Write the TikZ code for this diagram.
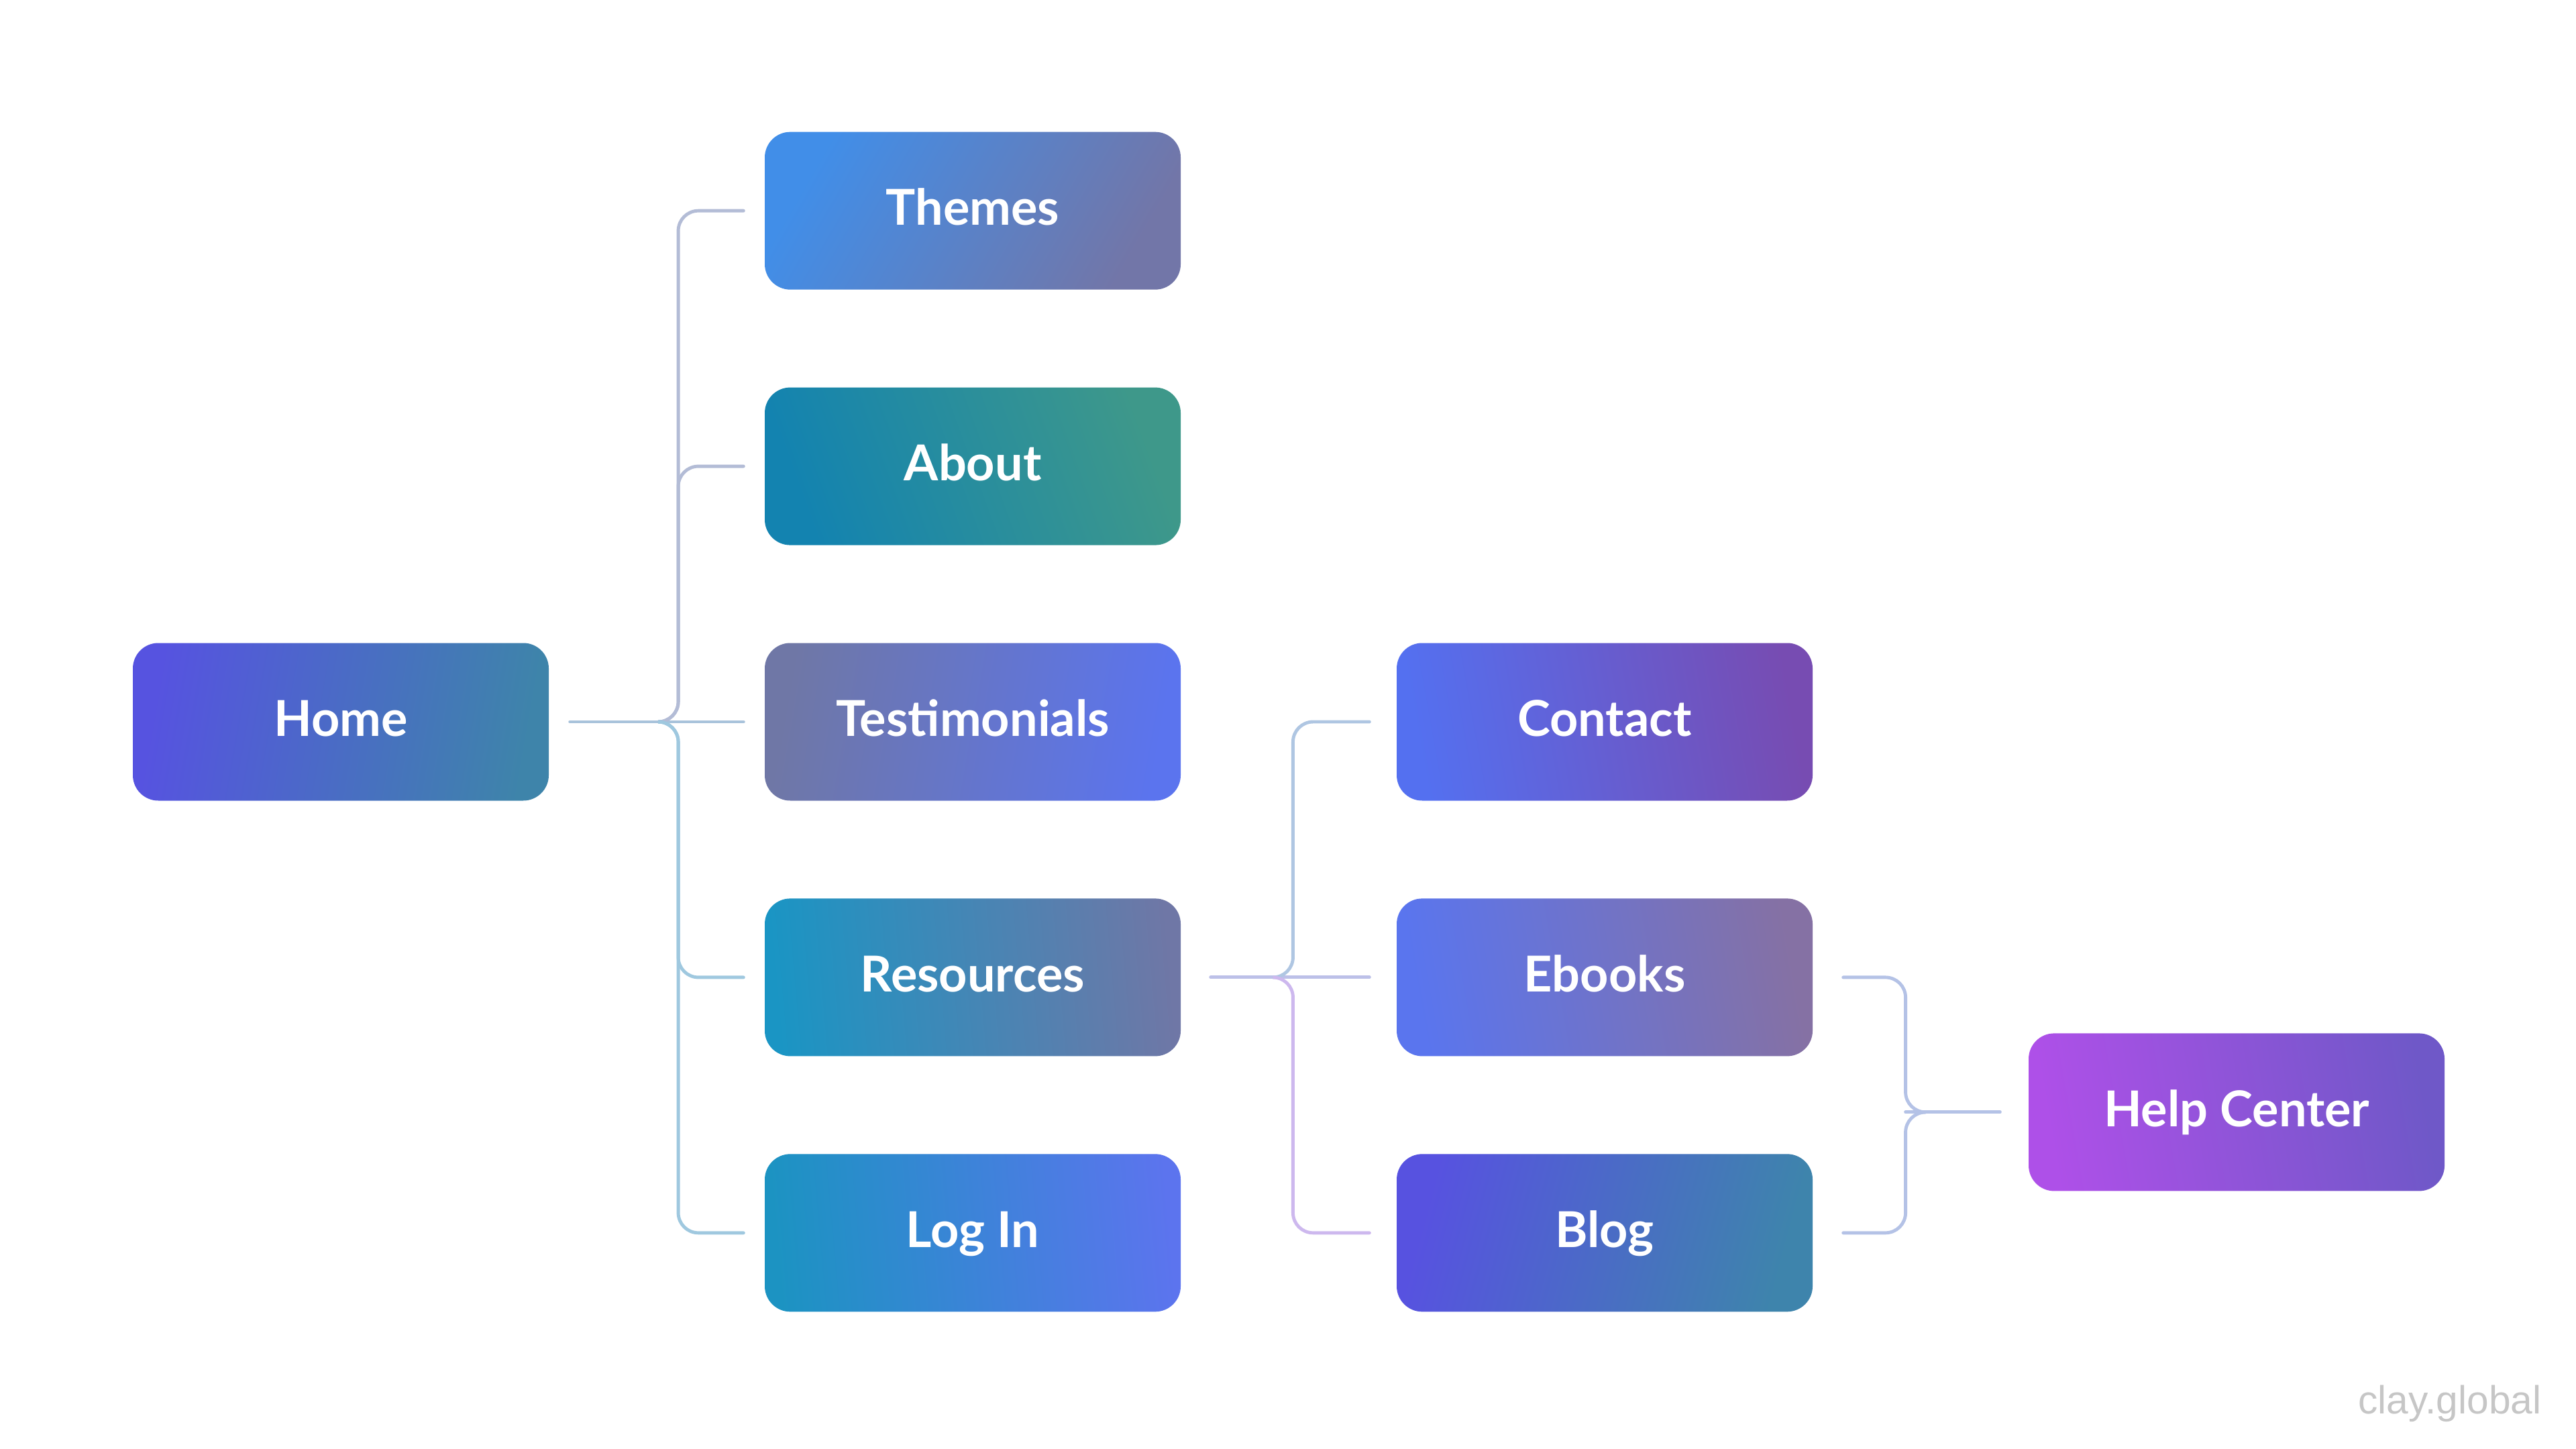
\documentclass[tikz,border=0pt]{standalone}
\usepackage{fontspec}
\setmainfont{Lato}
\newfontfamily\creditfont{Liberation Sans}
\usetikzlibrary{positioning,calc}

\definecolor{homeA}{HTML}{5653E0}
\definecolor{homeB}{HTML}{3E84AA}
\definecolor{themesA}{HTML}{418EE8}
\definecolor{themesB}{HTML}{7276A8}
\definecolor{aboutA}{HTML}{1383B0}
\definecolor{aboutB}{HTML}{3E988A}
\definecolor{testiA}{HTML}{6F77A6}
\definecolor{testiB}{HTML}{5B74EE}
\definecolor{resA}{HTML}{1A95C4}
\definecolor{resB}{HTML}{6F77A6}
\definecolor{loginA}{HTML}{1C93C2}
\definecolor{loginB}{HTML}{5C74EE}
\definecolor{contactA}{HTML}{5470F0}
\definecolor{contactB}{HTML}{774CB2}
\definecolor{ebooksA}{HTML}{5A75EE}
\definecolor{ebooksB}{HTML}{8571A4}
\definecolor{blogA}{HTML}{5752E0}
\definecolor{blogB}{HTML}{3E84AC}
\definecolor{helpA}{HTML}{AE50E8}
\definecolor{helpB}{HTML}{6F58C8}

\definecolor{linkup}{HTML}{B3BCD6}
\definecolor{linkhome}{HTML}{A9C3DB}
\definecolor{linkdown}{HTML}{9FC8DF}
\definecolor{linkblue}{HTML}{AFC6E2}
\definecolor{linkmid}{HTML}{BCC0E8}
\definecolor{linklav}{HTML}{CDB8EE}
\definecolor{linkhelp}{HTML}{B4C2E6}
\definecolor{creditgray}{HTML}{C6C6C6}

\begin{document}
\begin{tikzpicture}[
node distance=1.445cm and 3.206cm,
page/.style={
rectangle,
rounded corners=0.38cm,
minimum width=6.2cm,
minimum height=2.35cm,
text=white,
text height=15pt,
text depth=2.8pt,
font=\fontsize{21}{25}\selectfont\bfseries
},
link/.style={
line width=1.4pt,
rounded corners=0.3cm,
line cap=round
}
]

\useasboundingbox (0,0) rectangle (38.4,-21.6);

\node[page, left color=homeA, right color=homeB, shading angle=80] (home) at (5.08,-10.76) {Home};

\node[page, left color=testiA, right color=testiB, shading angle=80] (testimonials) [right=of home] {Testimonials};
\node[page, left color=aboutA, right color=aboutB, shading angle=110] (about) [above=of testimonials] {About};
\node[page, left color=themesA, right color=themesB, shading angle=60] (themes) [above=of about] {Themes};
\node[page, left color=resA, right color=resB, shading angle=95] (resources) [below=of testimonials] {Resources};
\node[page, left color=loginA, right color=loginB, shading angle=95] (login) [below=of resources] {Log In};

\node[page, left color=contactA, right color=contactB, shading angle=100] (contact) [right=of testimonials] {Contact};
\node[page, left color=ebooksA, right color=ebooksB, shading angle=100] (ebooks) [right=of resources] {Ebooks};
\node[page, left color=blogA, right color=blogB, shading angle=75] (blog) [right=of login] {Blog};

\node[page, left color=helpA, right color=helpB, shading angle=100] (help) [right=of ebooks, yshift=-2.01cm] {Help Center};

\node[text=creditgray, inner sep=0pt, font=\creditfont\fontsize{16.7}{20}\selectfont, anchor=base east] (credit) at (37.89,-21.07) {clay.global};

% home tree
\coordinate (homebus) at ($(home.east)!0.6!(testimonials.west)$);
\draw[link, linkhome, shorten <=3.1mm, shorten >=3.1mm] (home) -- (testimonials);
\foreach \n in {themes,about}
\draw[link, linkup, shorten >=3.1mm] ([xshift=-3mm]homebus) -- (homebus) |- (\n);
\foreach \n in {resources,login}
\draw[link, linkdown, shorten >=3.1mm] ([xshift=-3mm]homebus) -- (homebus) |- (\n);

% resources tree
\coordinate (resbus) at ($(resources.east)!0.52!(ebooks.west)$);
\draw[link, linkmid, shorten <=4.4mm, shorten >=4mm] (resources) -- (ebooks);
\draw[link, linkblue, shorten >=4mm] ([xshift=-3mm]resbus) -- (resbus) |- (contact);
\draw[link, linklav, shorten >=4mm] ([xshift=-3mm]resbus) -- (resbus) |- (blog);

% help tree
\coordinate (helpbus) at ($(ebooks.east)!0.43!(help.west |- ebooks)$);
\coordinate (helpjoin) at (helpbus |- help);
\draw[link, linkhelp, shorten <=4.5mm] (ebooks) -| (helpjoin) -- ([xshift=3mm]helpjoin);
\draw[link, linkhelp, shorten <=4.5mm] (blog) -| (helpjoin) -- ([xshift=3mm]helpjoin);
\draw[link, linkhelp, shorten >=4.2mm] (helpjoin) -- (help);

\end{tikzpicture}
\end{document}
